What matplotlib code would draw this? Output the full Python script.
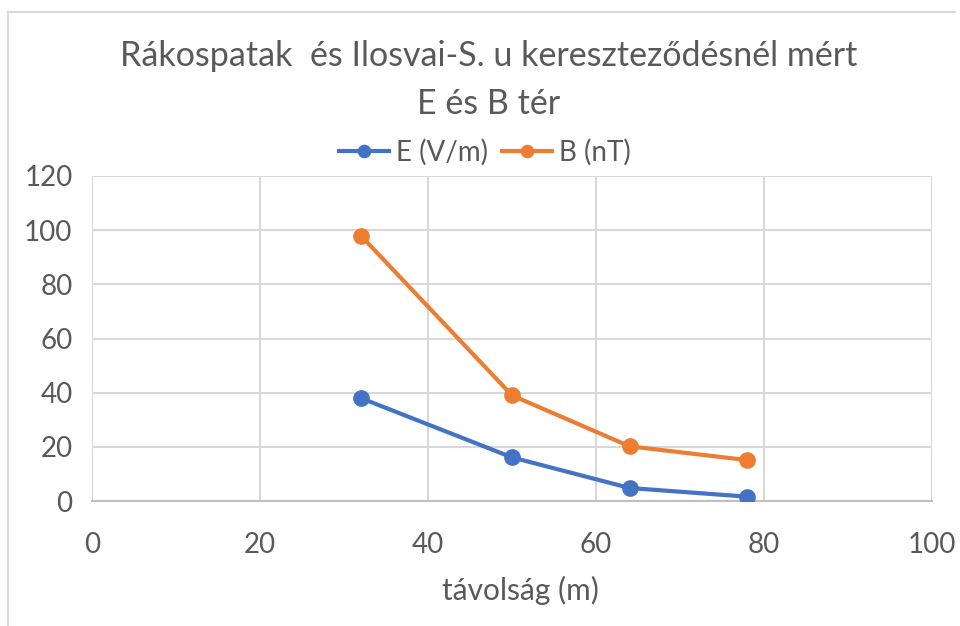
import matplotlib.pyplot as plt
from matplotlib.lines import Line2D

distance = [32, 50, 64, 78]
e_field = [38, 16.1, 4.8, 1.6]
b_field = [98, 39, 20.2, 15.1]
x_ticks = [0, 20, 40, 60, 80, 100]
y_ticks = [0, 20, 40, 60, 80, 100, 120]
title = "Rákospatak  és Ilosvai-S. u kereszteződésnél mért\nE és B tér"
x_label = "távolság (m)"
series_names = ["E (V/m)", "B (nT)"]

plt.rcParams['font.family'] = ['Lato', 'DejaVu Sans']
gray = '#595959'
W, H = 960, 626
fig = plt.figure(figsize=(W/100, H/100), dpi=100)
ax = fig.add_axes([92/W, 1-501/H, 840/W, 325/H])

ax.plot(distance, e_field, color='#4472C4', lw=3, marker='o', ms=11, label=series_names[0], zorder=3)
ax.plot(distance, b_field, color='#ED7D31', lw=3, marker='o', ms=11, label=series_names[1], zorder=3)

ax.set_xlim(0, 100)
ax.set_ylim(0, 120)
ax.set_xticks(x_ticks)
ax.set_yticks(y_ticks)
ax.grid(True, color='#d9d9d9', lw=1.5)
ax.set_axisbelow(True)
for s in ['top', 'right', 'left']:
    ax.spines[s].set_visible(False)
ax.spines['bottom'].set_color('#bfbfbf')
ax.spines['bottom'].set_linewidth(1.5)
ax.tick_params(length=0, labelsize=20, labelcolor=gray)
ax.tick_params(axis='x', pad=22)
ax.tick_params(axis='y', pad=14)
ax.set_xlabel(x_label, fontsize=21.5, color=gray)
ax.xaxis.set_label_coords((520-92)/840, (501-590)/325)
ax.xaxis.label.set_va('center')

fig.text(489/W, 1-80/H, title, ha='center', va='center', fontsize=24.5, color=gray, linespacing=1.58)

leg = fig.legend(loc='center', bbox_to_anchor=(485/W, 1-152/H), ncol=2, frameon=False,
                 fontsize=20, labelcolor=gray, handlelength=1.8, handletextpad=0.25, columnspacing=0.5,
                 markerscale=0.8)

# chart border (left and top visible)
fig.add_artist(Line2D([8/W, 8/W], [0, 1-12/H], transform=fig.transFigure, color='#d9d9d9', lw=1.5))
fig.add_artist(Line2D([8/W, 955/W], [1-12/H, 1-12/H], transform=fig.transFigure, color='#d9d9d9', lw=1.5))

fig.savefig('out.png', dpi=100, facecolor='white')
